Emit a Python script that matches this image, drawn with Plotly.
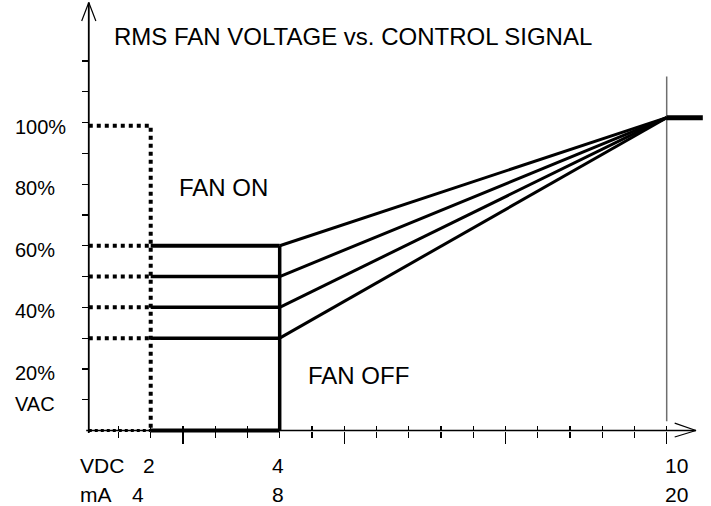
import plotly.graph_objects as go

# ---------------- data ----------------
# x in VDC (mA = 2 * VDC), y in % of RMS fan voltage
LEVELS = [60, 50, 40, 30]            # minimum-speed settings (%)
X_START = 2.0                        # VDC where the fan switches on
X_KNEE = 4.0                         # VDC where the ramp starts
X_FULL = 10.0                        # VDC for full output
X_END = 10.56                        # end of the full-output stub
FULL_PCT = 101.6                     # ramp end level (%)
ON_PCT = 99                          # dotted "fan on" level (%)
Y_AXIS_X = 1.04                      # VDC where the vertical axis sits
X_AXIS_END = 10.454                  # arrow tip of the horizontal axis
Y_AXIS_TOP = 139.0                   # arrow tip of the vertical axis
GUIDE_Y = [3, 115]                   # thin guide line at 10 VDC

Y_TICKS = [10, 20, 30, 40, 50, 60, 70, 80, 90, 100, 110, 120]
X_MAJOR_TICKS = [2.5, 5.0, 7.5, 10.0]
X_MINOR_TICKS = [1.5, 2.0, 2.5, 3.0, 3.5, 4.0, 4.5, 5.0, 5.5, 6.0, 6.5, 7.0,
                 7.5, 8.0, 8.5, 9.0, 9.5, 10.0]

Y_LABELS = ["100%", "80%", "60%", "40%", "20%", "VAC"]
Y_LABEL_VALUES = [100, 80, 60, 40, 20, 10]
VDC_LABELS = ["2", "4", "10"]
VDC_VALUES = [2, 4, 10]
MA_LABELS = ["4", "8", "20"]
MA_VALUES = [4, 8, 20]

TITLE = "RMS FAN VOLTAGE vs. CONTROL SIGNAL"

# ---------------- figure ----------------
W, H = 711, 506
X_RANGE = [-0.3364, 10.687]
Y_RANGE = [-24.52, 139.82]
FONT = "Liberation Sans, Arial, sans-serif"

def py(pct):
    """paper y fraction of a data y value"""
    return (pct - Y_RANGE[0]) / (Y_RANGE[1] - Y_RANGE[0])

def px_to_paper_y(p):
    return (H - p) / H

fig = go.Figure()

def line(x, y, width, dash="solid", color="black"):
    fig.add_trace(go.Scatter(x=x, y=y, mode="lines",
                             line=dict(color=color, width=width, dash=dash),
                             hoverinfo="skip", showlegend=False))

# axes (drawn as lines with arrowheads)
line([Y_AXIS_X, Y_AXIS_X], [-0.8, Y_AXIS_TOP], 1.8)
line([Y_AXIS_X - 0.11, Y_AXIS_X, Y_AXIS_X + 0.11],
     [Y_AXIS_TOP - 6, Y_AXIS_TOP, Y_AXIS_TOP - 6], 1.2)
line([Y_AXIS_X - 0.04, X_AXIS_END], [0, 0], 1.4)
line([X_AXIS_END - 0.33, X_AXIS_END, X_AXIS_END - 0.33], [2.4, 0, -2.1], 1.2)

# thin guide line at full scale
line([X_FULL, X_FULL], GUIDE_Y, 1.5, color="#6e6e6e")

# dotted "fan on" outline
line([Y_AXIS_X, X_START, X_START], [ON_PCT, ON_PCT, 0], 4, dash="dot")
for lv in LEVELS:
    line([Y_AXIS_X, X_START], [lv, lv], 4, dash="dot")
line([Y_AXIS_X, X_START], [0, 0], 3, dash="dot")

# flat minimum levels
for i, lv in enumerate(LEVELS):
    line([X_START, X_KNEE], [lv, lv], 4 if i == 0 else 3.5)
line([X_START, X_KNEE], [0, 0], 4)
line([X_KNEE, X_KNEE], [0, max(LEVELS)], 3.5)

# ramps to full
for lv in LEVELS:
    line([X_KNEE, X_FULL], [lv, FULL_PCT], 3)
line([X_FULL, X_END], [FULL_PCT, FULL_PCT], 5)

# dummy trace so the inside-tick overlay axis gets drawn
fig.add_trace(go.Scatter(x=[None], y=[None], xaxis="x2", mode="lines",
                         hoverinfo="skip", showlegend=False))

axis_pos = py(0)
fig.update_layout(
    width=W, height=H, margin=dict(l=0, r=0, t=0, b=0),
    paper_bgcolor="white", plot_bgcolor="white", showlegend=False,
    xaxis=dict(range=X_RANGE, anchor="free", position=axis_pos,
               showline=False, showgrid=False, zeroline=False,
               showticklabels=False, ticks="outside", tickmode="array",
               tickvals=X_MAJOR_TICKS, ticklen=12, tickwidth=1.2,
               tickcolor="black", fixedrange=True,
               minor=dict(tickmode="array", tickvals=X_MINOR_TICKS,
                          ticks="outside", ticklen=6, tickwidth=1.2,
                          tickcolor="black", showgrid=False)),
    xaxis2=dict(range=X_RANGE, overlaying="x", anchor="free",
                position=axis_pos, showline=False, showgrid=False,
                zeroline=False, showticklabels=False, ticks="inside",
                tickmode="array", tickvals=X_MINOR_TICKS, ticklen=5,
                tickwidth=1.2, tickcolor="black", fixedrange=True),
    yaxis=dict(range=Y_RANGE, anchor="free",
               position=(Y_AXIS_X - X_RANGE[0]) / (X_RANGE[1] - X_RANGE[0]),
               showline=False, showgrid=False, zeroline=False,
               showticklabels=False, ticks="outside", tickmode="array",
               tickvals=Y_TICKS, ticklen=7, tickwidth=1.2, tickcolor="black",
               fixedrange=True),
)

ann = []
def text(t, x, y, size, xref="paper", yref="paper", xanchor="left",
         xshift=0, yshift=0):
    ann.append(dict(text=t, x=x, y=y, xref=xref, yref=yref,
                    xanchor=xanchor, yanchor="middle", showarrow=False,
                    xshift=xshift, yshift=yshift,
                    font=dict(family=FONT, size=size, color="black")))

text(TITLE, 112 / W, px_to_paper_y(36), 24)
text("FAN ON", 177 / W, px_to_paper_y(188), 24)
text("FAN OFF", 306 / W, px_to_paper_y(376), 24)

for lab, v in zip(Y_LABELS, Y_LABEL_VALUES):
    text(lab, 13 / W, v, 20, yref="y", yshift=-4)

row_vdc = px_to_paper_y(465)
row_ma = px_to_paper_y(494)
text("VDC", 78 / W, row_vdc, 21)
text("mA", 78 / W, row_ma, 21)
for lab, v in zip(VDC_LABELS, VDC_VALUES):
    text(lab, v, row_vdc, 21, xref="x", xanchor="center",
         xshift=(10 if v == 10 else -2))
for lab, v in zip(MA_LABELS, MA_VALUES):
    shift = {4: -13, 8: -2, 20: 10}[v]
    text(lab, v / 2, row_ma, 21, xref="x", xanchor="center", xshift=shift)

fig.update_layout(annotations=ann)
fig.write_html("out.html",
               config={"displayModeBar": False, "staticPlot": True},
               post_script="document.body.style.margin='0';"
                           "document.body.style.padding='0';")
